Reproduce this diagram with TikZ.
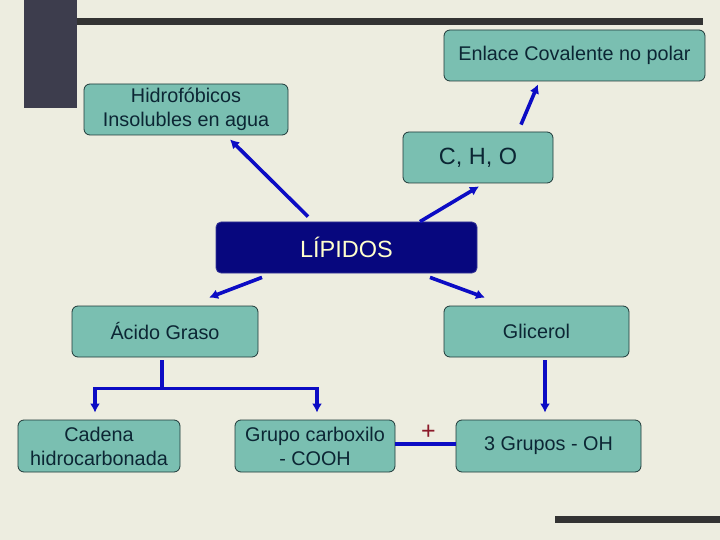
\documentclass[tikz,border=0pt]{standalone}
\usepackage{fontspec}
\setmainfont{Liberation Sans}
\usetikzlibrary{calc,arrows.meta}
\definecolor{bgc}{HTML}{EDEDE0}
\definecolor{teal}{HTML}{7ABFB1}
\definecolor{tealedge}{HTML}{1E3838}
\definecolor{txt}{HTML}{0C2634}
\definecolor{navy}{HTML}{07077E}
\definecolor{arrblue}{HTML}{0C0CC4}
\definecolor{barc}{HTML}{333333}
\definecolor{blockc}{HTML}{3D3D4D}
\definecolor{plusc}{HTML}{8B1A2A}
\tikzset{
  box/.style={draw=tealedge, line width=0.8pt, fill=teal, rounded corners=6pt, text=txt,
    font=\fontsize{19.8}{24}\selectfont, align=center, inner sep=0pt},
  mainbox/.style={draw=navy!80!white, line width=0.8pt, fill=navy, rounded corners=5pt, text={rgb,255:red,255;green,255;blue,204},
    font=\fontsize{23.5}{26}\selectfont, align=center, inner sep=0pt},
  arr/.style={draw=arrblue, line width=3.6pt, -{Latex[length=9pt,width=10pt]}},
  lnk/.style={draw=arrblue, line width=3.6pt},
}
\begin{document}
\begin{tikzpicture}[x=1pt,y=-1pt]
\fill[bgc] (0,0) rectangle (720,540);
\useasboundingbox (0,0) rectangle (720,540);
% decorative bars
\fill[blockc] (24,0) rectangle (77,108);
\fill[barc] (77,18) rectangle (703,25);
\fill[barc] (555,516) rectangle (720,523);
% nodes
\node[box, minimum width=261pt, minimum height=51pt] (enlace) at (574.5,55.5) {Enlace Covalente no polar};
\node[box, minimum width=204pt, minimum height=51pt] (hidro) at (186,109.5) {Hidrofóbicos\\Insolubles en agua};
\node[box, minimum width=150pt, minimum height=51pt, font=\fontsize{23.5}{26}\selectfont] (cho) at (478,157.5) {C, H, O};
\node[mainbox, minimum width=261pt, minimum height=51pt] (lip) at (346.5,247.5) {LÍPIDOS};
\node[box, minimum width=186pt, minimum height=51pt] (acido) at (165,331.5) {Ácido Graso};
\node[box, minimum width=185pt, minimum height=51pt] (glic) at (536.5,331.5) {Glicerol};
\node[box, minimum width=162pt, minimum height=52pt] (cadena) at (99,446) {Cadena\\hidrocarbonada};
\node[box, minimum width=160pt, minimum height=52pt] (grupo) at (315,446) {Grupo carboxilo\\- COOH};
\node[box, minimum width=185pt, minimum height=52pt] (tres) at (548.5,446) {3 Grupos - OH};
% connectors
\draw[arr] ($(lip.north)+(-38.5,-5)$) -- ($(hidro.south)+(44,4)$);
\draw[arr] ($(lip.north)+(73.5,0)$) -- ($(cho.south)+(1,3)$);
\draw[arr] ($(cho.north)+(43,-7)$) -- ($(enlace.south)+(-36.5,3)$);
\draw[arr] ($(lip.south)+(-84.5,4)$) -- ($(acido.north)+(44,-8)$);
\draw[arr] ($(lip.south)+(83.5,4)$) -- ($(glic.north)+(-51.5,-8)$);
\coordinate (br) at ($(acido.south)+(-3,31)$);
\draw[lnk] ($(acido.south)+(-3,3)$) -- (br);
\draw[arr] ([xshift=1.8pt]br) -| ($(cadena.north)+(-4,-7)$);
\draw[arr] ([xshift=-1.8pt]br) -| ($(grupo.north)+(2,-7)$);
\draw[arr] ($(glic.south)+(8.5,3)$) -- ($(tres.north)+(-3.5,-7)$);
\draw[lnk] ($(grupo.east)+(0,-2)$) -- ($(tres.west)+(0,-2)$);
\node[text=plusc, font=\fontsize{25}{26}\selectfont, inner sep=0pt] (plus) at (428.5,432) {+};
\end{tikzpicture}
\end{document}
